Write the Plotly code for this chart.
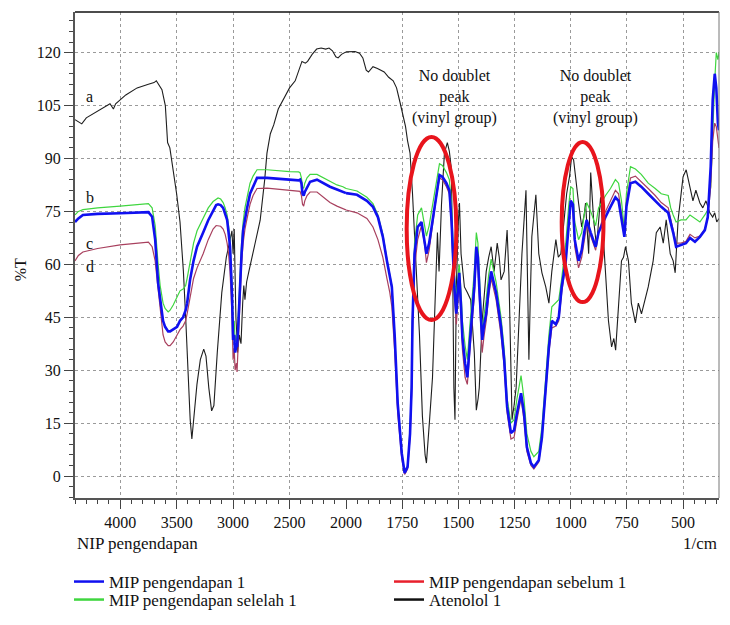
import plotly.graph_objects as go

# ---------------- data (wavenumber 1/cm, %T) ----------------
aten_w = [4400,4370,4340,4300,4200,4120,4090,4060,4040,3950,3850,3750,3700,3680,3660,3630,3600,3590,3580,3560,
          3540,3500,3470,3440,3420,3400,3380,3365,3345,3320,3290,3260,3240,3215,3190,3170,3140,3100,3060,3030,
          3010,3000,2990,2975,2960,2945,2930,2915,2905,2895,2880,2860,2840,2800,2760,2720,2700,2670,2640,2600,
          2550,2500,2450,2420,2390,2360,2340,2300,2260,2220,2180,2150,2120,2090,2070,2040,2000,1960,1940,1925,
          1910,1900,1880,1860,1830,1810,1790,1775,1760,1748,1735,1726,1715,1704,1695,1686,1673,1660,1648,1642,
          1635,1628,1615,1606,1598,1593,1586,1575,1562,1549,1540,1531,1526,1520,1515,1509,1500,1495,1488,1473,
          1460,1445,1429,1420,1412,1407,1394,1384,1376,1365,1354,1341,1327,1318,1310,1296,1283,1275,1266,1261,
          1252,1243,1230,1217,1199,1192,1186,1180,1173,1155,1142,1128,1111,1097,1084,1066,1055,1044,1031,1018,
          1005,996,987,975,965,951,940,934,920,911,898,885,875,867,855,845,832,818,808,800,
          788,774,765,756,743,730,712,699,685,668,655,633,619,602,588,575,557,544,535,522,
          500,486,469,456,443,425,412,398,381,368,359,350,340]
aten_t = [101,100.5,99.8,101.5,103.5,105,105.5,104,105.5,108,110,111,111.5,112,111,109.5,105,99,94.5,93,
          89,80,72,58,45,30,16,10.5,17,26,33,36,34,25,18.5,20,35,52,62,67,
          69.5,63,70,45,35,40,37.5,49,54,50,55,58,61,67,72.5,84,91.5,97,99.5,104,
          107,110,112,114.5,117.5,117,117.5,119.5,121,121.3,121,121.3,120.5,118.8,118.5,119.5,120.2,120.3,119.8,118.5,
          115,114.5,116,115.5,114.5,113,112,110,106,103,99,95,91.5,80,68,58,40,17,6,3.7,
          9,16,28,44,58,69,58,77,91.5,94.5,92,87,63,25,16,53.6,72,77.4,63,53.6,
          52,50,35,18.7,22,25,44,52,58,62,65,58,66,62,55.6,58,69.7,57,35,16,
          20,25,44,63,81,60,33,50,67.8,79.7,63,57.6,53.6,49,58,67,62,63,72.6,80,
          85,90.5,89.6,82,77.4,70.6,74,77.4,63,86,72.6,65,74,79,68,58,44,36.6,39,35.7,
          49,61,62,65,61,49,43.4,49,46,50,53.6,61,69,70.6,66,72.6,63,61,57.6,72.6,
          84.8,86.8,82,78,81,77.4,76,78,74.6,73.4,74.6,72,73]

mip_w = [4400,4370,4330,4200,4000,3800,3750,3717,3690,3664,3646,3620,3602,3575,3558,3530,3496,3470,3443,3420,
         3407,3381,3350,3319,3290,3265,3220,3177,3150,3133,3110,3088,3070,3053,3040,3027,3009,3000,2990,2982,
         2970,2965,2956,2945,2938,2925,2911,2895,2876,2850,2823,2800,2788,2700,2600,2500,2420,2407,2395,2385,
         2375,2365,2345,2318,2257,2200,2142,2080,2027,2000,1951,1907,1880,1858,1836,1818,1805,1796,1783,1770,
         1752,1739,1726,1715,1708,1704,1695,1681,1664,1650,1642,1630,1619,1598,1584,1571,1553,1540,1530,1518,
         1509,1500,1496,1488,1482,1470,1460,1447,1429,1420,1413,1407,1394,1385,1376,1365,1354,1332,1310,1296,
         1283,1266,1252,1239,1221,1208,1195,1177,1164,1142,1128,1111,1097,1084,1066,1053,1040,1022,1009,1000,
         990,982,965,951,940,929,911,889,876,860,845,823,801,787,774,761,752,734,712,686,
         655,624,597,566,555,544,531,509,487,469,447,425,403,390,377,368,359,352,345,340]

mip1_t = [72,73,74,74.3,74.5,74.7,74.8,73.5,67,54.7,50,44,42.3,41,41,41.5,42.3,44,45,47,
          49,55.6,61,65,67,69,72.5,75.4,76.8,77,76.8,76,74.5,72.6,69,65,51,38.6,40,35,
          37,36.6,41.4,50,55.6,63,69.7,73,76,80,82,83.5,84.5,84.5,84.3,84,83.8,84,83,80,
          79.5,80.5,81.6,83.4,84,83,82,81.2,80.5,80.2,79.7,78,76.3,73.4,67.8,61,57,53.6,39.4,20.7,
          6.5,0.9,2.6,12,25,44,63,70.6,72,67,63,66,70.6,80,85.3,84.8,83,81,72,53.6,
          46,55,57.6,48,39.4,32,28,39.4,53.6,65,62,53.6,38.6,43,46,53,58,52,42.3,33,
          19.6,12.2,13,17.9,23.5,17.9,8.2,3.7,2.6,4.5,11,25,36.6,44,43,45,53.6,61,72.6,78,
          77,67,61,64,69,72.6,69,65,69,71.5,73.4,76.3,79,78,72.6,67.8,76.3,83,83.4,82,
          80,78,76.3,74.6,72,69,65,65.5,66,67.5,66.4,67.8,69.7,73.4,87.6,106.6,114,110,100,98]

sel_t = [74,75,75.5,76,76.5,77,77.2,76,71,60,54,49,47.5,46.5,47,48.5,51,52.5,53,54,
         56,61,66,69.5,71.5,73,76,77.8,78.5,78.8,78.5,77.5,76,74,71,67,54,42,44,38,
         40,39,44,53,58,66,72,76,79,83,85,86,86.8,86.8,86.5,86.3,86.2,86,84.5,82,
         81.5,83,84.5,85.5,85.5,84.5,83.5,82.5,82,81.5,80.8,79,77.2,74,68.5,61.5,57.5,54,40,21,
         7,1,3,13,26,46,66,74,76,71,68,71,75,83.5,88.5,88,86,84,76,58,
         50,58,60,52,44,37,33,44,58,69,66,58,41,46,50,57,61.5,55,45,36,
         22,15,16,22,28.5,22,12,7,5.5,7,14,28,40,48,49,50,56,66,76.5,82,
         81.5,72,67,69,74,77.5,75,71,76,78,79.5,81.5,84,83,78,69.7,80,87.7,87,85.5,
         83,81.5,80,79.5,76,74,72,72.6,72.6,74,73,72,74,75.4,82,100,112,120,118,120]

seb_t = [61,62.5,63.5,64.5,65.5,66,66.3,65,61,53,47,40,38,37,37,38,40,41.5,42.5,44,
         46,51,56,59,61,63,67,70,71,71,70.8,70,68.5,66,63,58,45,33,36,30,
         32,29.5,36,46,52,60,66,70,73,77,79.5,81,81.5,81.6,81.3,81,80.8,80.7,79.5,77,
         76.5,78,79.5,80.5,80.5,79,77.5,76.5,75.7,75.4,74.6,73,70.6,67,62,56,52,48,35,18,
         5,0.5,2,11,23,41,59,67,71,65.5,60.5,64,69.5,79,84.5,84,82,80,70,51,
         43,52,55,45,36,28,26,37,51,63,60,51,35,40,44,51,56,50,40,31,
         18,10.5,11,16,22,16,7,3,2,4,10.5,24,35,42,42.5,44,52,60,72,77,
         76,65,59,62,67,71,68,64,69,72.5,75,78,81,80,74.5,68.5,77.5,84.5,85,83.5,
         81.5,79.5,77.5,76,73,70,66,66,66.5,68.5,67.5,68,70,73,82,95,100,99,95,93]

series = [
    # name, wavenumbers, values, colour, width
    ("Atenolol 1", aten_w, aten_t, "#1e1e1e", 1.1),
    ("MIP pengendapan selelah 1", mip_w, sel_t, "#3fd63f", 1.2),
    ("MIP pengendapan sebelum 1", mip_w, seb_t, "#a8405e", 1.2),
    ("MIP pengendapan 1", mip_w, mip1_t, "#1010f0", 2.6),
]
# legend entries: (name, colour, legend id, column, row)
legend_items = [("MIP pengendapan 1", "#1010f0", "legend", 0, 0),
                ("MIP pengendapan sebelum 1", "#e8202c", "legend2", 1, 0),
                ("MIP pengendapan selelah 1", "#3fd63f", "legend3", 0, 1),
                ("Atenolol 1", "#111111", "legend4", 1, 1)]

FONT = "Liberation Serif"
W, H = 722, 617          # page has an 8px body margin
fig = go.Figure()

for name, w, t, col, lw in series:
    lw_ = [a for a in w if a >= 2000]
    lt_ = [b for a, b in zip(w, t) if a >= 2000]
    rw_ = [a for a in w if a <= 2000]
    rt_ = [b for a, b in zip(w, t) if a <= 2000]
    fig.add_trace(go.Scatter(x=lw_, y=lt_, mode="lines", line=dict(color=col, width=lw),
                             xaxis="x", yaxis="y", showlegend=False, hoverinfo="skip"))
    fig.add_trace(go.Scatter(x=rw_, y=rt_, mode="lines", line=dict(color=col, width=lw),
                             xaxis="x2", yaxis="y", showlegend=False, hoverinfo="skip"))

for name, col, lg, c, r in legend_items:
    fig.add_trace(go.Scatter(x=[None], y=[None], mode="lines", name=name,
                             line=dict(color=col, width=2.5), legend=lg,
                             xaxis="x2", yaxis="y"))

split = (346 - 75) / 644.0
grid = dict(showgrid=True, gridcolor="#9a9a9a", griddash="3px,3px", gridwidth=1)
axfont = dict(family=FONT, size=16, color="#111")
legs = {}
for name, col, lg, c, r in legend_items:
    legs[lg] = dict(orientation="h", xref="container", yref="container", xanchor="left",
                    yanchor="middle", x=(61 + 320 * c) / W, y=(H - (574 + 18 * r)) / H,
                    font=dict(family=FONT, size=17, color="#111"), itemwidth=30,
                    bgcolor="rgba(0,0,0,0)")

fig.update_layout(
    width=W, height=H,
    margin=dict(l=67, r=11, t=4, b=127, autoexpand=False),
    paper_bgcolor="white", plot_bgcolor="white",
    font=dict(family=FONT, size=16, color="#111"),
    showlegend=True,
    xaxis=dict(domain=[0, split], range=[4400, 2000], anchor="y",
               tickmode="linear", tick0=0, dtick=500,
               ticks="outside", ticklen=9, tickwidth=1.2, tickcolor="#444",
               showline=True, linecolor="#555", linewidth=2,
               minor=dict(tickmode="linear", tick0=0, dtick=100, ticklen=4, tickcolor="#444", ticks="outside"),
               tickfont=axfont, zeroline=False, **grid),
    xaxis2=dict(domain=[split, 1], range=[2000, 340], anchor="y",
                tickmode="array", tickvals=[1750, 1500, 1250, 1000, 750, 500],
                ticks="outside", ticklen=9, tickwidth=1.2, tickcolor="#444",
                showline=True, linecolor="#555", linewidth=2,
                minor=dict(tickmode="linear", tick0=0, dtick=50, ticklen=4, tickcolor="#444", ticks="outside"),
                tickfont=axfont, zeroline=False, **grid),
    yaxis=dict(range=[-6.2, 131.5], tickmode="linear", tick0=0, dtick=15,
               ticks="outside", ticklen=9, tickwidth=1.2, tickcolor="#444",
               showline=True, linecolor="#555", linewidth=2,
               minor=dict(tickmode="linear", tick0=0, dtick=3, ticklen=4, tickcolor="#444", ticks="outside"),
               tickfont=axfont, zeroline=False, **grid),
    **legs,
)

# frame top / right
fig.add_shape(type="line", xref="paper", yref="paper", x0=0, x1=1, y0=1, y1=1,
              line=dict(color="#111", width=1.3))
fig.add_shape(type="line", xref="paper", yref="paper", x0=1, x1=1, y0=0, y1=1,
              line=dict(color="#777", width=1))

# red ellipses
for x0, x1, y0, y1 in [(1730, 1509, 44.2, 96.1), (1040, 854, 49.3, 94.7)]:
    fig.add_shape(type="circle", xref="x2", yref="y", x0=x0, x1=x1, y0=y0, y1=y1,
                  line=dict(color="#e8141c", width=4))

ann = dict(showarrow=False, font=dict(family=FONT, size=16, color="#111"))
ann17 = dict(showarrow=False, font=dict(family=FONT, size=17, color="#111"))
for xx in [1518, 889]:
    fig.add_annotation(x=xx, y=107.5, xref="x2", yref="y",
                       text="No doublet<br>peak<br>(vinyl group)", align="center", **ann)
for lab, yy in [("a", 107.5), ("b", 79), ("c", 65.8), ("d", 59.3)]:
    fig.add_annotation(x=4270, y=yy, xref="x", yref="y", text=lab, **ann)

fig.add_annotation(x=0, y=-0.094, xref="paper", yref="paper", xanchor="left", yanchor="middle",
                   text="NIP pengendapan", **ann17)
fig.add_annotation(x=1, y=-0.094, xref="paper", yref="paper", xanchor="right", yanchor="middle",
                   text="1/cm", **ann17)
fig.add_annotation(x=-0.085, y=0.469, xref="paper", yref="paper", textangle=-90,
                   xanchor="center", yanchor="middle", text="%T", **ann)

fig.write_html("out.html")
